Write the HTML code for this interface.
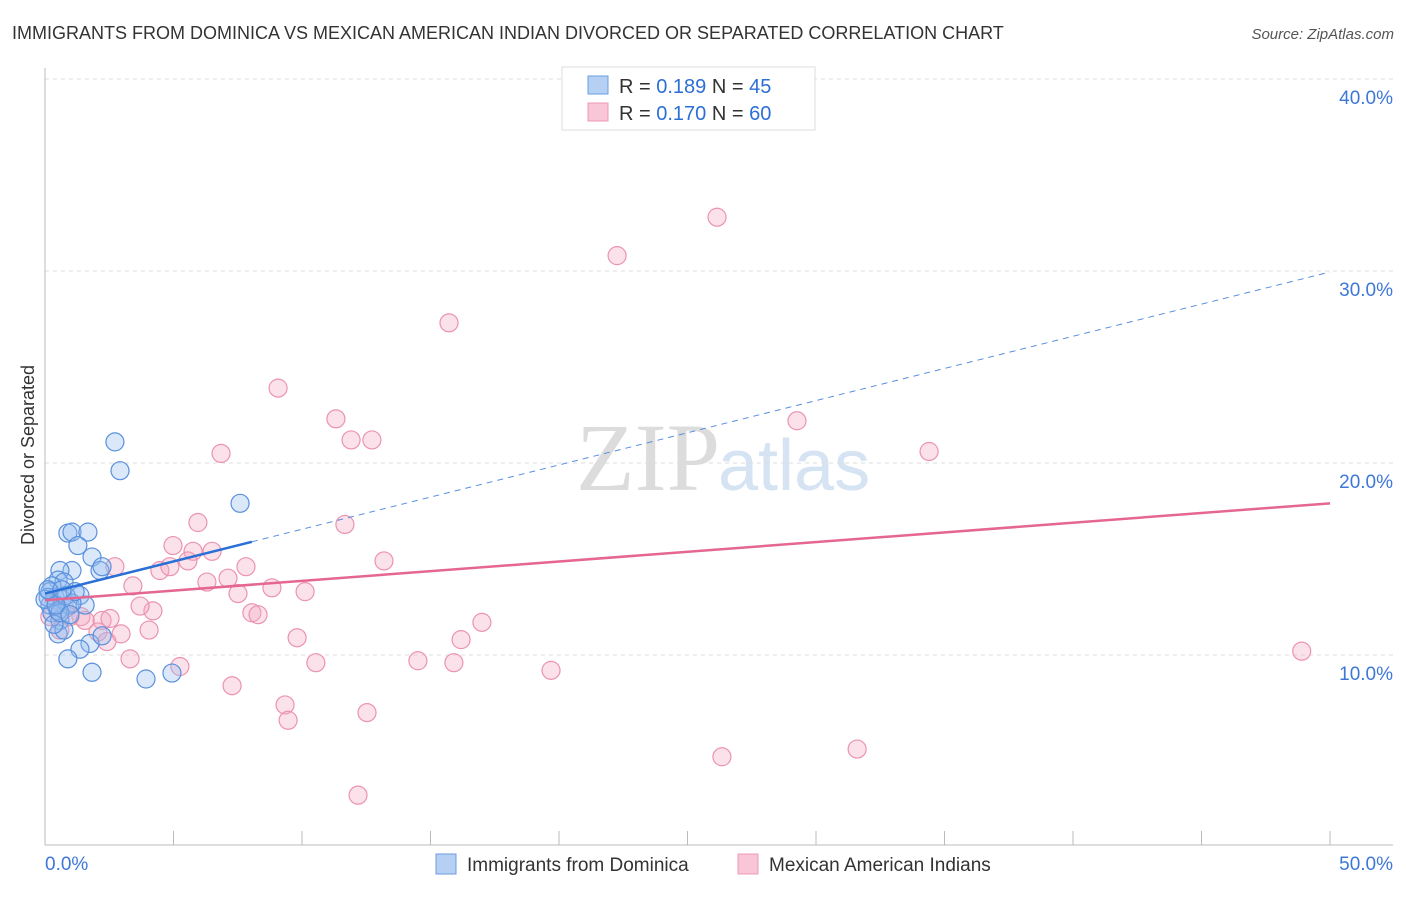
<!DOCTYPE html>
<html><head><meta charset="utf-8"><style>
body{margin:0;background:#fff;font-family:"Liberation Sans",sans-serif}
</style></head><body>
<svg width="1406" height="892" xmlns="http://www.w3.org/2000/svg" font-family="Liberation Sans, sans-serif">
<text x="12" y="39" font-size="18" fill="#333">IMMIGRANTS FROM DOMINICA VS MEXICAN AMERICAN INDIAN DIVORCED OR SEPARATED CORRELATION CHART</text>
<text x="1394" y="39" font-size="15" fill="#555" font-style="italic" text-anchor="end">Source: ZipAtlas.com</text>
<text x="720" y="490" font-size="96" fill="#dcdcdc" text-anchor="end" font-family="Liberation Serif, serif">ZIP</text>
<text x="718" y="490" font-size="72" fill="#d5e3f3">atlas</text>
<g id="grid"></g><g id="axes"></g>
<text transform="translate(34,455) rotate(-90)" font-size="18" fill="#333" text-anchor="middle">Divorced or Separated</text>
<g id="marks"></g><g id="lines"></g>
<g>
<rect x="562" y="67" width="253" height="63" fill="#fff" stroke="#ddd"/>
<rect x="588" y="76" width="20" height="18" fill="#b5d0f3" stroke="#6a9ee0"/>
<rect x="588" y="103" width="20" height="18" fill="#f8c6d6" stroke="#ec98b4"/>
<text x="619" y="93" font-size="20" fill="#333">R = <tspan fill="#2d6fd6">0.189</tspan>   N = <tspan fill="#2d6fd6">45</tspan></text>
<text x="619" y="120" font-size="20" fill="#333">R = <tspan fill="#2d6fd6">0.170</tspan>   N = <tspan fill="#2d6fd6">60</tspan></text>
</g>
<g>
<rect x="436" y="854" width="20" height="20" fill="#b5d0f3" stroke="#6a9ee0"/>
<text x="467" y="871" font-size="19" fill="#333">Immigrants from Dominica</text>
<rect x="738" y="854" width="20" height="20" fill="#f8c6d6" stroke="#ec98b4"/>
<text x="769" y="871" font-size="19" fill="#333">Mexican American Indians</text>
</g>
</svg>
<script>
const blueX=[2.72,2.92,7.59,0.89,1.05,1.67,1.28,1.83,2.14,2.22,1.05,0.58,0.51,0.74,0.27,0.19,0.39,0.66,0.97,0.19,0.27,0.12,1.36,1.56,0.58,0.51,0.74,1.75,1.36,0.89,1.83,3.93,4.94,2.22,0.51,0.82,1.05,0.35,0,0.12,0.58,1.17,0.43,0.66,0.97];
const blueY=[21.1,19.6,17.9,16.35,16.4,16.4,15.7,15.1,14.4,14.6,14.4,14.4,13.9,13.8,13.6,13.3,13.0,12.9,12.6,12.6,12.2,13.0,13.1,12.6,11.8,11.1,11.3,10.6,10.3,9.8,9.1,8.75,9.06,11.0,12.3,13.1,12.7,11.6,12.9,13.4,12.2,13.3,12.6,13.4,12.1];
const pinkX=[26.15,22.26,15.72,9.07,11.32,11.91,12.72,29.26,34.4,6.85,5.95,11.67,4.98,5.76,6.5,5.56,4.47,4.86,2.72,7.82,13.19,6.3,7.12,8.83,10.12,3.42,7.51,4.2,3.7,8.05,8.29,1.4,0.19,0.97,2.22,4.05,2.96,2.06,2.41,9.81,16.19,17.0,3.31,5.25,10.54,14.51,15.91,19.69,7.28,9.34,9.46,12.53,26.34,31.6,12.18,48.9,0.58,1.56,2.53,0.78];
const pinkY=[32.8,30.8,27.3,23.9,22.3,21.2,21.2,22.2,20.6,20.5,16.9,16.8,15.7,15.4,15.4,14.9,14.4,14.6,14.6,14.6,14.9,13.8,14.0,13.5,13.3,13.6,13.2,12.3,12.55,12.2,12.1,12.0,12.0,12.0,11.8,11.3,11.1,11.2,10.7,10.9,10.8,11.7,9.8,9.4,9.6,9.7,9.6,9.2,8.4,7.4,6.6,7.0,4.7,5.1,2.7,10.2,11.3,11.8,11.9,12.4];
const yTicks=[10,20,30,40];
const xTickVals=[0,5,10,15,20,25,30,35,40,45,50];
const blueFit=[13.2,0.335]; const blueSolidEnd=8.05;
const pinkFit=[12.85,0.101];
const NS="http://www.w3.org/2000/svg";
const sx=v=>45+v*25.7, sy=v=>847-v*19.2;
function mk(t,a,p){const e=document.createElementNS(NS,t);for(const k in a)e.setAttribute(k,a[k]);document.getElementById(p).appendChild(e);return e;}
yTicks.forEach(v=>{
 const l=mk('line',{x1:45,x2:1393,y1:sy(v),y2:sy(v),stroke:'#ddd','stroke-dasharray':'4,4'},'grid');
 
 
 const t=mk('text',{x:1393,y:sy(v)+25,'font-size':19,fill:'#3d78d8','text-anchor':'end'},'grid');
 t.textContent=v.toFixed(1)+'%';
 
 
});
mk('line',{x1:45,x2:45,y1:68,y2:845,stroke:'#bbb'},'axes');
mk('line',{x1:45,x2:1393,y1:845,y2:845,stroke:'#bbb'},'axes');
xTickVals.forEach(v=>{const l=mk('line',{x1:sx(v),x2:sx(v),y1:831,y2:845,stroke:'#bbb'},'axes');
 
 });
let t0=mk('text',{x:45,y:870,'font-size':19,fill:'#3d78d8'},'axes');t0.textContent='0.0%';


let t1=mk('text',{x:1393,y:870,'font-size':19,fill:'#3d78d8','text-anchor':'end'},'axes');t1.textContent='50.0%';


pinkX.forEach((x,i)=>{const c=mk('circle',{cx:sx(x),cy:sy(pinkY[i]),r:9,fill:'rgba(244,170,196,0.35)',stroke:'#eb93b1','stroke-width':1.2},'marks');
 
 });
blueX.forEach((x,i)=>{const c=mk('circle',{cx:sx(x),cy:sy(blueY[i]),r:9,fill:'rgba(150,190,240,0.35)',stroke:'#5a90dc','stroke-width':1.2},'marks');
 
 });
const bl=mk('line',{x1:sx(0),y1:sy(blueFit[0]),x2:sx(blueSolidEnd),y2:sy(blueFit[0]+blueFit[1]*blueSolidEnd),stroke:'#2a6fd6','stroke-width':2.5},'lines');


const bd=mk('line',{x1:sx(blueSolidEnd),y1:sy(blueFit[0]+blueFit[1]*blueSolidEnd),x2:sx(50),y2:sy(blueFit[0]+blueFit[1]*50),stroke:'#5a90dc','stroke-width':1,'stroke-dasharray':'6,5'},'lines');


const pl=mk('line',{x1:sx(0),y1:sy(pinkFit[0]),x2:sx(50),y2:sy(pinkFit[0]+pinkFit[1]*50),stroke:'#e5668f','stroke-width':2.5},'lines');


</script>
</body></html>
